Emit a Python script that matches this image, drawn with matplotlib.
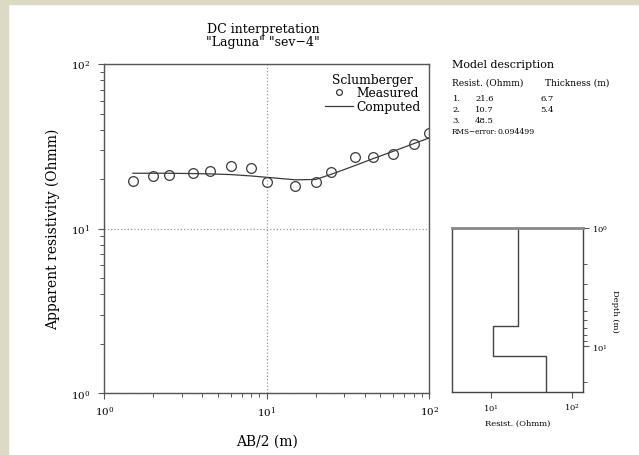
import matplotlib
matplotlib.use("Agg")
import matplotlib.pyplot as plt
import numpy as np
from matplotlib.patches import Rectangle
from matplotlib.ticker import FuncFormatter, LogLocator, NullFormatter

plt.rcParams["font.family"] = ["DejaVu Serif"]
plt.rcParams["mathtext.fontset"] = "dejavuserif"

# Sounding data (Schlumberger array)
ab2 = [1.5, 2, 2.5, 3.5, 4.5, 6, 8, 10, 15, 20, 25, 35, 45, 60, 80, 100]
rho_measured = [19.4, 21.0, 21.3, 21.8, 22.3, 24.1, 23.5, 19.2, 18.2, 19.3,
                22.2, 27.2, 27.4, 28.4, 32.8, 38.1]
rho_computed = [21.7, 21.7, 21.7, 21.6, 21.5, 21.3, 20.9, 20.5, 19.8, 19.9,
                21.4, 24.2, 26.6, 29.5, 32.8, 35.6]

# Layered model
layer_resist = [21.6, 10.7, 48.5]
layer_thick = [6.7, 5.4]
rms_error = 0.094499

W, H = 639, 456
fig = plt.figure(figsize=(W / 100, H / 100), dpi=100)

# beige page edge
fig.patches.append(Rectangle((0, 0), 8 / W, 1, transform=fig.transFigure,
                             color="#dcdac4", zorder=-10))
fig.patches.append(Rectangle((0, 1 - 5 / H), 1, 5 / H, transform=fig.transFigure,
                             color="#dcdac4", zorder=-10))

dark = "#3a3a3a"


def pow_fmt(v, pos):
    return r"$10^{%d}$" % int(round(np.log10(v)))


# ---- main sounding curve ----
ax = fig.add_axes([104.3 / W, 1 - 394.3 / H, 325 / W, 329.3 / H])
ax.set_xscale("log")
ax.set_yscale("log")
ax.set_xlim(1, 100)
ax.set_ylim(1, 100)

ax.plot(ab2, rho_measured, "o", mfc="none", mec=dark, ms=7, mew=0.9,
        label="Measured", zorder=3)
ax.plot(ab2, rho_computed, "-", color=dark, lw=0.9, label="Computed", zorder=2)

ax.grid(True, which="major", linestyle=":", color="#999999", lw=0.9)
for s in ax.spines.values():
    s.set_color("#555555")
    s.set_linewidth(1.0)
    s.set_zorder(4)

ax.xaxis.set_major_locator(LogLocator(base=10, numticks=5))
ax.yaxis.set_major_locator(LogLocator(base=10, numticks=5))
ax.xaxis.set_minor_locator(LogLocator(base=10, subs=np.arange(2, 10), numticks=20))
ax.yaxis.set_minor_locator(LogLocator(base=10, subs=np.arange(2, 10), numticks=20))
ax.xaxis.set_major_formatter(FuncFormatter(pow_fmt))
ax.yaxis.set_major_formatter(FuncFormatter(pow_fmt))
ax.xaxis.set_minor_formatter(NullFormatter())
ax.yaxis.set_minor_formatter(NullFormatter())
ax.tick_params(which="both", direction="out", color="#555555", labelsize=7.5)
ax.tick_params(which="major", length=4, width=0.8)
ax.tick_params(which="minor", length=3, width=0.7)
ax.tick_params(axis="y", pad=6)
ax.tick_params(axis="x", pad=4)

ax.set_xlabel("AB/2 (m)", fontsize=10)
ax.set_ylabel("Apparent resistivity (Ohmm)", fontsize=10)
ax.xaxis.set_label_coords(0.5, -0.144)
ax.yaxis.set_label_coords(-0.158, 0.5)
ax.xaxis.label.set_va("center")
ax.yaxis.label.set_va("center")

leg = ax.legend(loc="upper right", frameon=False, title="Sclumberger",
                fontsize=8.8, title_fontsize=8.8, handlelength=2.3,
                handletextpad=0.3, labelspacing=0.05, borderaxespad=0.3,
                markerscale=0.6)

fig.text(263 / W, 1 - 36 / H, 'DC interpretation\n"Laguna" "sev\u22124"',
         ha="center", va="center", fontsize=9, linespacing=1.0)

# ---- model description ----
fx = lambda x: x / W
fy = lambda y: 1 - y / H
fig.text(fx(451.7), fy(65), "Model description", fontsize=8, va="center")
fig.text(fx(451.7), fy(83.3), "Resist. (Ohmm)", fontsize=6.5, va="center")
fig.text(fx(545), fy(83.3), "Thickness (m)", fontsize=6.5, va="center")
row_y = [99.3, 110, 121]
for i, r in enumerate(layer_resist):
    fig.text(fx(452.7), fy(row_y[i]), f"{i + 1}.", fontsize=6, va="center")
    fig.text(fx(475), fy(row_y[i]), f"{r:.1f}", fontsize=6, va="center")
    if i < len(layer_thick):
        fig.text(fx(540.7), fy(row_y[i]), f"{layer_thick[i]:.1f}", fontsize=6,
                 va="center")
fig.text(fx(451.7), fy(131.7), "RMS\u2212error:", fontsize=5.2, va="center")
fig.text(fx(498), fy(131.7), f"{rms_error:.6f}", fontsize=5.6, va="center")

# ---- layered model inset ----
ax2 = fig.add_axes([451.7 / W, 1 - 393 / H, 131 / W, 164 / H])
depths = np.concatenate([[1.0], np.cumsum(layer_thick)])
bottom = 2 * depths[-1]
xs = np.repeat(layer_resist, 2)
ys = np.concatenate([[depths[0]], np.repeat(depths[1:], 2), [bottom]])
ax2.plot(xs, ys, color="#444444", lw=1.0)
ax2.set_xscale("log")
ax2.set_yscale("log")
ax2.set_xlim(3.3, 137)
ax2.set_ylim(24.5, 1)
ax2.yaxis.tick_right()
ax2.yaxis.set_label_position("right")
ax2.xaxis.set_major_locator(LogLocator(base=10, numticks=5))
ax2.xaxis.set_minor_locator(plt.NullLocator())
ax2.yaxis.set_major_locator(LogLocator(base=10, numticks=5))
ax2.yaxis.set_minor_locator(LogLocator(base=10, subs=np.arange(2, 10), numticks=20))
ax2.xaxis.set_major_formatter(FuncFormatter(pow_fmt))
ax2.yaxis.set_major_formatter(FuncFormatter(pow_fmt))
ax2.yaxis.set_minor_formatter(NullFormatter())
ax2.tick_params(which="both", direction="out", color="#555555", labelsize=6)
ax2.tick_params(which="major", length=4, width=0.8, pad=3)
ax2.tick_params(which="minor", length=3, width=0.7)
for s in ax2.spines.values():
    s.set_color("#444444")
    s.set_linewidth(1.0)
ax2.spines["top"].set_color("#888888")
ax2.spines["top"].set_linewidth(2.0)
ax2.set_xlabel("Resist. (Ohmm)", fontsize=6)
ax2.set_ylabel("Depth (m)", fontsize=6, rotation=270)
ax2.xaxis.set_label_coords(0.5, -0.185)
ax2.yaxis.set_label_coords(1.25, 0.5)
ax2.xaxis.label.set_va("center")
ax2.yaxis.label.set_va("center")

fig.savefig("out.png", dpi=100)
